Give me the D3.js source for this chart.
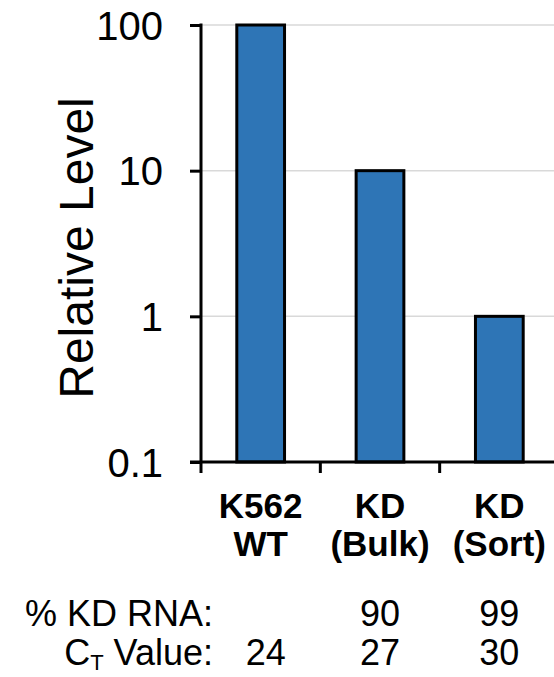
<!DOCTYPE html>
<html>
<head>
<meta charset="utf-8">
<script src="https://cdn.jsdelivr.net/npm/d3@7"></script>
<style>
  body { margin: 0; background: #fff; }
  svg { display: block; font-family: "Liberation Sans", Arial, sans-serif; }
</style>
</head>
<body>
<svg id="chart" width="554" height="677"></svg>
<script>
// chart values
var groups = ["K562 WT", "KD (Bulk)", "KD (Sort)"];
var groupLines = [["K562", "WT"], ["KD", "(Bulk)"], ["KD", "(Sort)"]];
var levels = [100, 10, 1];
var yTicks = [0.1, 1, 10, 100];
var yTickLabels = ["0.1", "1", "10", "100"];
var kdRna = ["", "90", "99"];
var ctValues = ["24", "27", "30"];

var svg = d3.select("#chart");

var yScale = d3.scaleLog()
    .domain([0.1, 100])
    .range([462, 25]);

var xScale = d3.scaleBand()
    .domain(groups)
    .range([201, 559])
    .paddingInner(0.6)
    .paddingOuter(0.3);

var step = xScale.step();

// grid lines (not at the baseline)
svg.append("g")
    .selectAll("line")
    .data(yTicks.filter(d => d > 0.1))
    .enter()
    .append("line")
    .attr("x1", 201)
    .attr("x2", 559)
    .attr("y1", d => yScale(d))
    .attr("y2", d => yScale(d))
    .attr("stroke", "#d9d9d9")
    .attr("stroke-width", 1.5);

// bars
svg.append("g")
    .selectAll("rect")
    .data(groups)
    .enter()
    .append("rect")
    .attr("x", d => xScale(d))
    .attr("width", xScale.bandwidth())
    .attr("y", (d, i) => yScale(levels[i]))
    .attr("height", (d, i) => yScale(0.1) - yScale(levels[i]))
    .attr("fill", "#2E75B6")
    .attr("stroke", "#000")
    .attr("stroke-width", 3);

// y axis
var yAxis = d3.axisLeft(yScale)
    .tickValues(yTicks)
    .tickFormat((d, i) => yTickLabels[i])
    .tickSize(11)
    .tickPadding(27);

var yg = svg.append("g")
    .attr("transform", "translate(201,0)")
    .call(yAxis);
yg.select(".domain").remove();
yg.selectAll(".tick line").attr("stroke", "#000").attr("stroke-width", 3);
yg.selectAll(".tick text")
    .attr("fill", "#000")
    .style("font-size", "40px")
    .style("font-family", "'Liberation Sans', Arial, sans-serif")
    .attr("dy", "0.35em");

yg.append("line")
    .attr("x1", 0).attr("x2", 0)
    .attr("y1", yScale(100) - 1.5)
    .attr("y2", yScale(0.1))
    .attr("stroke", "#000")
    .attr("stroke-width", 3);

// x axis line and ticks at band borders
var xg = svg.append("g");
xg.append("line")
    .attr("x1", 190)
    .attr("x2", 554)
    .attr("y1", yScale(0.1))
    .attr("y2", yScale(0.1))
    .attr("stroke", "#000")
    .attr("stroke-width", 3);

xg.selectAll(".xtick")
    .data(groups)
    .enter()
    .append("line")
    .attr("class", "xtick")
    .attr("x1", d => xScale(d) - step * 0.3)
    .attr("x2", d => xScale(d) - step * 0.3)
    .attr("y1", yScale(0.1))
    .attr("y2", yScale(0.1) + 11)
    .attr("stroke", "#000")
    .attr("stroke-width", 3);

// category labels
var catLabels = svg.append("g")
    .selectAll("text")
    .data(groups)
    .enter()
    .append("text")
    .attr("x", d => xScale(d) + xScale.bandwidth() / 2)
    .attr("y", 518)
    .attr("text-anchor", "middle")
    .style("font-size", "35px")
    .style("font-weight", "bold");

catLabels.each(function (d, i) {
    var t = d3.select(this);
    groupLines[i].forEach((line, j) => {
        t.append("tspan")
            .attr("x", xScale(d) + xScale.bandwidth() / 2)
            .attr("dy", j === 0 ? 0 : 38)
            .text(line);
    });
});

// y axis title
svg.append("text")
    .attr("transform", "translate(93,248) rotate(-90)")
    .attr("text-anchor", "middle")
    .style("font-size", "48px")
    .text("Relative Level");

// table beneath the chart
svg.append("text")
    .attr("x", 213)
    .attr("y", 626)
    .attr("text-anchor", "end")
    .style("font-size", "36px")
    .text("% KD RNA:");

var ctLabel = svg.append("text")
    .attr("x", 213)
    .attr("y", 665)
    .attr("text-anchor", "end")
    .style("font-size", "36px");
ctLabel.append("tspan").text("C");
ctLabel.append("tspan").attr("dy", 5).style("font-size", "22px").text("T");
ctLabel.append("tspan").attr("dy", -5).text(" Value:");

svg.append("g")
    .selectAll("text")
    .data(groups)
    .enter()
    .append("text")
    .attr("x", d => xScale(d) + xScale.bandwidth() / 2)
    .attr("y", 626)
    .attr("text-anchor", "middle")
    .style("font-size", "36px")
    .text((d, i) => kdRna[i]);

svg.append("g")
    .selectAll("text")
    .data(groups)
    .enter()
    .append("text")
    .attr("x", (d, i) => xScale(d) + xScale.bandwidth() / 2 + (i === 0 ? 5 : 0))
    .attr("y", 665)
    .attr("text-anchor", "middle")
    .style("font-size", "36px")
    .text((d, i) => ctValues[i]);
</script>
</body>
</html>
